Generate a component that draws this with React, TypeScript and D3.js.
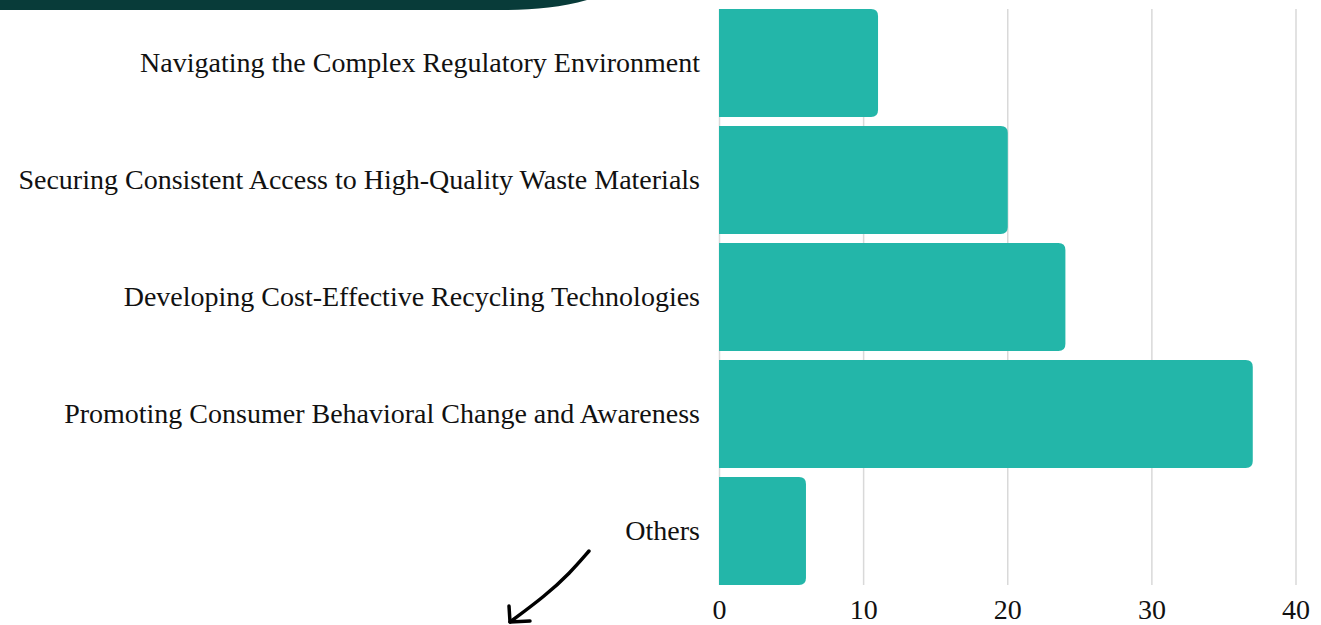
import React from "react";
import * as d3 from "d3";

const categories = [
  "Navigating the Complex Regulatory Environment",
  "Securing Consistent Access to High-Quality Waste Materials",
  "Developing Cost-Effective Recycling Technologies",
  "Promoting Consumer Behavioral Change and Awareness",
  "Others",
];
const values = [11, 20, 24, 37, 6];
const ticks = [0, 10, 20, 30, 40];

const W = 1321;
const H = 625;
const FONT = "'Liberation Serif', serif";

function barPath(x0: number, y: number, w: number, h: number, r: number) {
  const rr = Math.min(r, w / 2, h / 2);
  return `M${x0},${y}H${x0 + w - rr}Q${x0 + w},${y} ${x0 + w},${y + rr}V${y + h - rr}Q${x0 + w},${y + h} ${x0 + w - rr},${y + h}H${x0}Z`;
}

export default function App() {
  const x = d3.scaleLinear().domain([0, 40]).range([719.5, 1296]);
  const y = d3
    .scaleBand<string>()
    .domain(categories)
    .range([4.5, 589.5])
    .paddingInner(0.077)
    .paddingOuter(0.0385);
  const arrow = d3.line().curve(d3.curveBasis)([
    [589, 551],
    [570, 573],
    [545, 596],
    [510, 622],
  ]);
  return (
    <svg
      width={W}
      height={H}
      style={{ position: "absolute", left: 0, top: 0, background: "#fff" }}
    >
      <path d="M0,0H587C560,8 530,10 500,10H0Z" fill="#083b39" />
      {ticks.map((t) => (
        <line
          key={t}
          x1={x(t)}
          x2={x(t)}
          y1={9}
          y2={585}
          stroke="#d9d9d9"
          strokeWidth={1.5}
        />
      ))}
      {categories.map((c, i) => (
        <path
          key={c}
          d={barPath(x(0) - 0.5, y(c)!, x(values[i]) - x(0) + 0.5, y.bandwidth(), 7)}
          fill="#23b6a9"
        />
      ))}
      {categories.map((c) => (
        <text
          key={c}
          x={700}
          y={y(c)! + y.bandwidth() / 2}
          dy="0.33em"
          textAnchor="end"
          fontFamily={FONT}
          fontSize={28}
          fill="#111"
        >
          {c}
        </text>
      ))}
      {ticks.map((t) => (
        <text
          key={t}
          x={x(t)}
          y={619}
          textAnchor="middle"
          fontFamily={FONT}
          fontSize={28}
          fill="#111"
        >
          {t}
        </text>
      ))}
      <path d={arrow || ""} fill="none" stroke="#000" strokeWidth={3.5} strokeLinecap="round" />
      <path d="M509,606L510,622L530,621" fill="none" stroke="#000" strokeWidth={3.5} strokeLinecap="round" strokeLinejoin="round" />
    </svg>
  );
}
